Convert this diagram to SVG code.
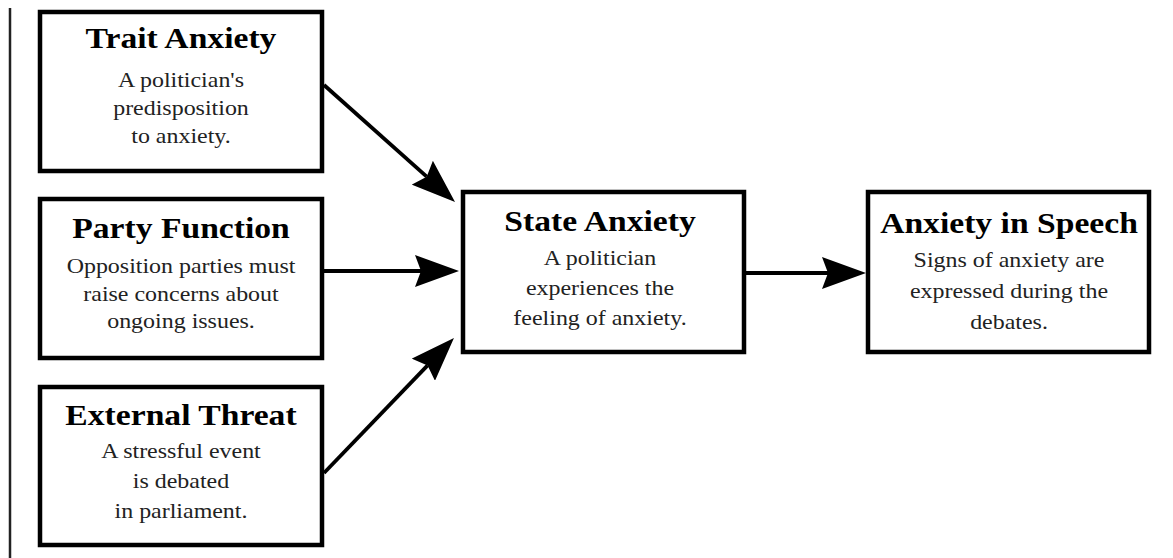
<svg xmlns="http://www.w3.org/2000/svg" width="1173" height="558" viewBox="0 0 1173 558">
<style>
.box{fill:#fff;stroke:#000;stroke-width:4.5}
.edge{stroke:#000;stroke-width:3.8;fill:none}
.t{font-weight:bold;font-size:28.5px;fill:#000;text-anchor:middle}
.b{font-size:20.3px;fill:#222;text-anchor:middle}
</style>
<defs>
<marker id="ah" viewBox="0 0 44 32" refX="6" refY="16" markerWidth="44" markerHeight="32" markerUnits="userSpaceOnUse" orient="auto">
<path d="M0,0 L44,16 L0,32 L6,16 Z" fill="#000"/>
</marker>
</defs>
<rect width="1173" height="558" fill="#fff"/>
<line x1="10" y1="8" x2="10" y2="558" stroke="#222" stroke-width="2.5"/>
<g id="connectors">
<line class="edge" x1="324" y1="85" x2="426.7" y2="176.7" marker-end="url(#ah)"/>
<line class="edge" x1="324" y1="271" x2="421" y2="271" marker-end="url(#ah)"/>
<line class="edge" x1="324" y1="473" x2="427.6" y2="365.4" marker-end="url(#ah)"/>
<line class="edge" x1="746" y1="273" x2="828" y2="273" marker-end="url(#ah)"/>
</g>
<g font-family="Liberation Serif, Times New Roman, serif">
<g id="trait">
<rect class="box" x="40" y="12" width="282" height="159"/>
<g transform="translate(181 0) scale(1.18 1)">
<text class="t" x="0" y="48">Trait Anxiety</text>
<text class="b" x="0" y="87">A politician's</text>
<text class="b" x="0" y="115">predisposition</text>
<text class="b" x="0" y="143">to anxiety.</text>
</g>
</g>
<g id="party">
<rect class="box" x="40" y="199" width="282" height="159"/>
<g transform="translate(181 0) scale(1.18 1)">
<text class="t" x="0" y="238">Party Function</text>
<text class="b" x="0" y="273">Opposition parties must</text>
<text class="b" x="0" y="301">raise concerns about</text>
<text class="b" x="0" y="328">ongoing issues.</text>
</g>
</g>
<g id="external">
<rect class="box" x="40" y="387" width="282" height="158"/>
<g transform="translate(181 0) scale(1.18 1)">
<text class="t" x="0" y="425">External Threat</text>
<text class="b" x="0" y="458">A stressful event</text>
<text class="b" x="0" y="488">is debated</text>
<text class="b" x="0" y="518">in parliament.</text>
</g>
</g>
<g id="state">
<rect class="box" x="463" y="192" width="281" height="160"/>
<g transform="translate(600 0) scale(1.18 1)">
<text class="t" x="0" y="231">State Anxiety</text>
<text class="b" x="0" y="265">A politician</text>
<text class="b" x="0" y="295">experiences the</text>
<text class="b" x="0" y="325">feeling of anxiety.</text>
</g>
</g>
<g id="speech">
<rect class="box" x="868" y="192" width="281" height="160"/>
<g transform="translate(1009 0) scale(1.18 1)">
<text class="t" x="0" y="233">Anxiety in Speech</text>
<text class="b" x="0" y="267">Signs of anxiety are</text>
<text class="b" x="0" y="298">expressed during the</text>
<text class="b" x="0" y="329">debates.</text>
</g>
</g>
</g>
</svg>
